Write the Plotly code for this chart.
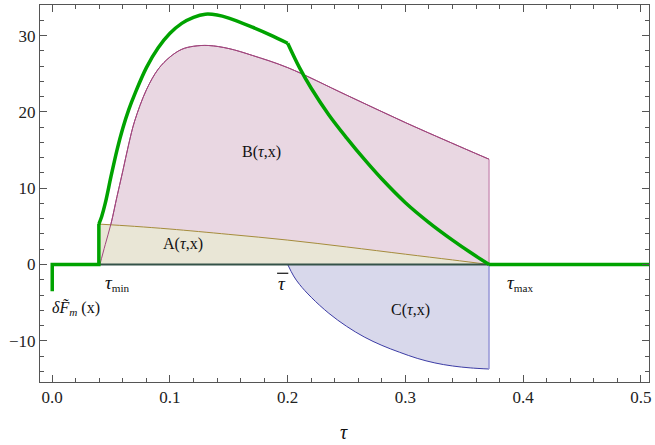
import plotly.graph_objects as go

# ---- data ----
tau_min = 0.0396
tau_bar = 0.2
tau_max = 0.371

# B(tau,x)
b_tau = [0.0405, 0.045, 0.050, 0.055, 0.060, 0.065, 0.070, 0.080, 0.090, 0.100, 0.110,
         0.120, 0.133, 0.150, 0.170, 0.200, 0.250, 0.300, 0.350, 0.371]
b_val = [0.0, 2.6, 5.4, 8.9, 12.3, 15.8, 18.8, 22.9, 25.6, 27.2, 28.2,
         28.6, 28.7, 28.3, 27.4, 25.8, 22.2, 18.6, 15.2, 13.8]

# A(tau,x)
a_tau = [0.0396, 0.070, 0.100, 0.150, 0.200, 0.250, 0.300, 0.340, 0.371]
a_val = [5.3, 5.0, 4.65, 3.95, 3.2, 2.3, 1.35, 0.6, 0.0]

# C(tau,x)
c_tau = [0.200, 0.205, 0.210, 0.220, 0.235, 0.250, 0.265, 0.280, 0.295, 0.310,
         0.325, 0.340, 0.355, 0.371]
c_val = [0.0, -1.5, -2.6, -4.3, -6.4, -8.1, -9.5, -10.6, -11.5, -12.3,
         -12.9, -13.3, -13.55, -13.7]

# delta F_m (green), in pieces: step part, rise, fall, tail
g_step_tau = [0.0, 0.0, 0.0396, 0.0396]
g_step_val = [-3.5, 0.0, 0.0, 5.3]
g_rise_tau = [0.0396, 0.042, 0.045, 0.050, 0.055, 0.060, 0.065, 0.070, 0.080, 0.090,
              0.100, 0.110, 0.120, 0.130, 0.140, 0.150, 0.170, 0.185, 0.200]
g_rise_val = [5.3, 6.3, 8.0, 11.6, 15.0, 17.9, 20.3, 22.3, 25.8, 28.4,
              30.3, 31.6, 32.4, 32.8, 32.7, 32.3, 31.1, 30.1, 29.0]
g_fall_tau = [0.200, 0.210, 0.220, 0.235, 0.250, 0.265, 0.280, 0.300, 0.320,
              0.340, 0.355, 0.371]
g_fall_val = [29.0, 25.8, 23.1, 19.6, 16.6, 13.8, 11.2, 8.1, 5.5,
              3.2, 1.6, 0.0]
g_tail_tau = [0.371, 0.51]
g_tail_val = [0.0, 0.0]

TAU = '<span style="font-size:19px"><i>τ</i></span>'
labels = {
    "B": (0.1776, 14.7, "B(<i>τ</i>,x)", 16),
    "A": (0.1107, 2.7, "A(<i>τ</i>,x)", 16),
    "C": (0.3046, -5.9, "C(<i>τ</i>,x)", 16),
    "tmin": (0.0555, -2.4, TAU + "<sub>min</sub>", 16),
    "tbar": (0.1954, -2.5, "<i>τ</i>", 19),
    "tmax": (0.3975, -2.4, TAU + "<sub>max</sub>", 16),
    "dF": (0.0205, -5.8, "<i>δF\u0303</i><sub><i>m</i></sub> (x)", 16),
}

SERIF = "Liberation Serif, Times New Roman, serif"

fig = go.Figure()

B_LINE = "rgb(160,70,125)"
A_LINE = "rgb(165,140,60)"
C_LINE = "rgb(60,60,165)"
GREEN = "rgb(0,163,0)"

# B fill (drawn first)
fig.add_trace(go.Scatter(x=b_tau, y=b_val, mode="lines", line_shape="spline",
                         fill="tozeroy", fillcolor="rgb(233,215,226)",
                         line=dict(color=B_LINE, width=1), hoverinfo="skip"))
fig.add_trace(go.Scatter(x=[b_tau[-1], b_tau[-1]], y=[b_val[-1], 0.0], mode="lines",
                         line=dict(color="rgb(205,150,185)", width=1.5), hoverinfo="skip"))
# A fill on top
fig.add_trace(go.Scatter(x=a_tau, y=a_val, mode="lines", line_shape="spline",
                         fill="tozeroy", fillcolor="rgb(233,230,214)",
                         line=dict(color=A_LINE, width=1), hoverinfo="skip"))
# B boundary visible through A
fig.add_trace(go.Scatter(x=b_tau, y=b_val, mode="lines", line_shape="spline",
                         line=dict(color=B_LINE, width=1), hoverinfo="skip"))
# C fill
fig.add_trace(go.Scatter(x=c_tau, y=c_val, mode="lines", line_shape="spline",
                         fill="tozeroy", fillcolor="rgb(216,216,235)",
                         line=dict(color=C_LINE, width=1), hoverinfo="skip"))
fig.add_trace(go.Scatter(x=[c_tau[-1], c_tau[-1]], y=[c_val[-1], 0.0], mode="lines",
                         line=dict(color="rgb(150,150,215)", width=1.5), hoverinfo="skip"))
# zero baseline
fig.add_trace(go.Scatter(x=[tau_min, tau_max], y=[0, 0], mode="lines",
                         line=dict(color="rgb(52,82,72)", width=2), hoverinfo="skip"))
# green delta F
for xs, ys, shape in [(g_step_tau, g_step_val, "linear"), (g_rise_tau, g_rise_val, "spline"),
                      (g_fall_tau, g_fall_val, "spline"), (g_tail_tau, g_tail_val, "linear")]:
    fig.add_trace(go.Scatter(x=xs, y=ys, mode="lines", line_shape=shape,
                             line=dict(color=GREEN, width=3.5), hoverinfo="skip"))

for key, (x, y, t, sz) in labels.items():
    fig.add_annotation(x=x, y=y, text=t, showarrow=False,
                       font=dict(family=SERIF, size=sz, color="#111"),
                       xanchor="center", yanchor="middle")

# overbar of tau-bar label
fig.add_shape(type="line", xref="x", yref="y", x0=0.1910, x1=0.2005, y0=-1.15, y1=-1.15,
              line=dict(color="#111", width=1.2))

fig.add_annotation(x=0.248, y=-0.1315, xref="x", yref="paper", text="<i>τ</i>",
                   showarrow=False, font=dict(family=SERIF, size=20, color="#111"),
                   xanchor="center", yanchor="middle")

axis_common = dict(showline=True, linecolor="#555", linewidth=1, mirror="allticks",
                   ticks="inside", tickcolor="#555", ticklen=7, tickwidth=1,
                   showgrid=False, zeroline=False,
                   tickfont=dict(family=SERIF, size=17, color="#222"))

fig.update_xaxes(range=[-0.0104, 0.5069], tick0=0, dtick=0.1, tickformat=".1f",
                 minor=dict(dtick=0.02, tick0=0, ticks="inside", ticklen=4,
                            tickcolor="#555", showgrid=False),
                 **axis_common)
fig.update_yaxes(range=[-15.40, 34.01], tick0=0, dtick=10,
                 minor=dict(dtick=2, tick0=0, ticks="inside", ticklen=4,
                            tickcolor="#555", showgrid=False),
                 **axis_common)

fig.update_layout(width=655, height=445, margin=dict(l=40, r=4, t=4, b=63),
                  paper_bgcolor="white", plot_bgcolor="white", showlegend=False,
                  font=dict(family=SERIF))

fig.write_html("out.html")
